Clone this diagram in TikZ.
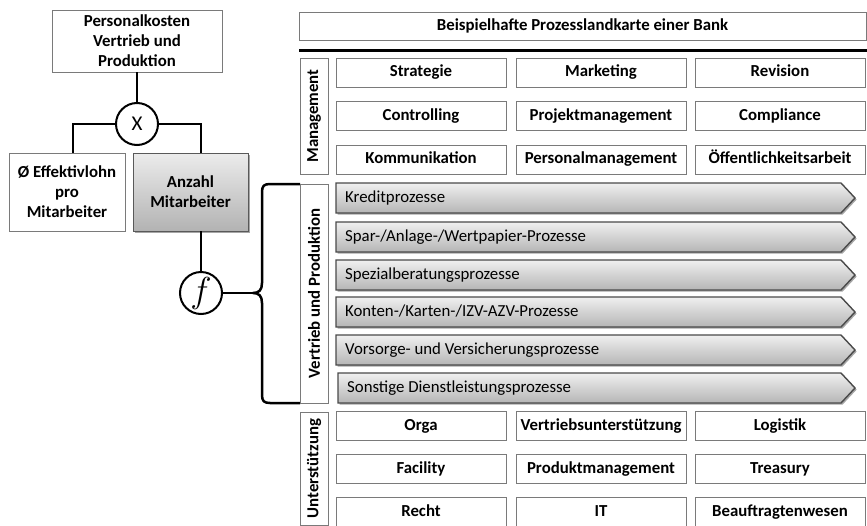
\documentclass[tikz,border=0pt]{standalone}
\usepackage{fontspec}
\usepackage{graphicx}
\setmainfont{Carlito}
\usetikzlibrary{shadows}
\definecolor{edge}{HTML}{7A7A7A}
\definecolor{stepedge}{HTML}{4A4A4A}

% one process step of the value chain: name, left x, centre y, label
\newcommand\procstep[4]{%
  \path[stepshape] (#2,#3-15) -- (841,#3-15) -- (855,#3) -- (841,#3+15) -- (#2,#3+15) -- cycle;
  \node[steplabel, anchor=west] (#1) at (#2+9,#3) {#4};}

\begin{document}
\begin{tikzpicture}[x=1pt,y=-1pt,
  conn/.style={line width=2.8pt, black},
  box/.style={draw=edge, line width=0.9pt, fill=white, inner sep=2pt, align=center,
    font=\bfseries\fontsize{16.8}{20}\selectfont},
  cellbox/.style={box, minimum width=170pt, minimum height=29pt, inner sep=0pt,
    text height=11.5pt, text depth=3.5pt},
  sidebox/.style={box, rotate=90, minimum height=28pt},
  opcircle/.style={circle, draw=black, line width=2pt, fill=white, minimum size=42pt, inner sep=0pt},
  softshadow/.style={drop shadow={shadow xshift=1.6pt, shadow yshift=-1.6pt, opacity=.35, fill=black}},
  stepshape/.style={draw=stepedge, line width=1.4pt, line join=miter, softshadow,
    top color=gray!12, bottom color=gray!58},
  steplabel/.style={inner sep=0pt, text height=11.5pt, text depth=3.5pt,
    font=\fontsize{16.8}{20}\selectfont},
]
\useasboundingbox (0,0) rectangle (867,525);

% ---------- driver tree ----------
\node[box, minimum width=170pt, minimum height=62pt] (pk) at (137,41)
  {Personalkosten\\Vertrieb und\\Produktion};
\node[opcircle, font=\fontsize{21}{21}\selectfont] (mul) at (137,124) {X};
\node[box, minimum width=116pt, minimum height=78pt] (eff) at (67,192)
  {Ø Effektivlohn\\pro\\Mitarbeiter};
\node[box, draw=gray!70!black, minimum width=115pt, minimum height=78pt,
  top color=gray!15, bottom color=gray!60, softshadow] (anz) at (190.5,192)
  {Anzahl\\Mitarbeiter};
\node[opcircle] (fn) at (201,293) {\fontsize{24.88}{25}\selectfont\scalebox{1.45}{$f$}};
\coordinate (bt) at (253,293);

\draw[conn] (pk.south) -- (mul.north);
\draw[conn] (mul.west) -| ([xshift=6pt]eff.north);
\draw[conn] (mul.east) -| (anz.north -| fn);
\draw[conn] (anz.south -| fn) -- (fn.north);
\draw[conn] (fn.east) -- (bt);

% curly brace around the sales and production processes
\draw[line width=2.5pt, line join=round]
  (300,184) -- (270,184) .. controls (264,184) and (262,186) .. (262,192)
  -- (262,283) .. controls (262,290) and (259,293) .. (bt)
  .. controls (259,293) and (262,296) .. (262,303)
  -- (262,395) .. controls (262,401) and (264,403) .. (270,403) -- (300,403);

% ---------- process map ----------
\node[box, minimum width=567pt, minimum height=28pt] (title) at (582.5,26)
  {Beispielhafte Prozesslandkarte einer Bank};
\draw[line width=3pt] (299,50) -- (867,50);

% management processes
\node[sidebox, minimum width=116pt] (mg) at (314,116) {Management};
\node[cellbox] (m11) at (421,72.5)  {Strategie};
\node[cellbox] (m12) at (601,72.5)  {Marketing};
\node[cellbox] (m13) at (780,72.5)  {Revision};
\node[cellbox] (m21) at (421,116)   {Controlling};
\node[cellbox] (m22) at (601,116)   {Projektmanagement};
\node[cellbox] (m23) at (780,116)   {Compliance};
\node[cellbox] (m31) at (421,159.5) {Kommunikation};
\node[cellbox] (m32) at (601,159.5) {Personalmanagement};
\node[cellbox] (m33) at (780,159.5) {Öffentlichkeitsarbeit};

% core processes
\node[sidebox, minimum width=219pt] (vp) at (314,293.5) {Vertrieb und Produktion};
\procstep{p1}{336}{198}{Kreditprozesse}
\procstep{p2}{336}{237}{Spar-/Anlage-/Wertpapier-Prozesse}
\procstep{p3}{336}{275}{Spezialberatungsprozesse}
\procstep{p4}{336}{312}{Konten-/Karten-/IZV-AZV-Prozesse}
\procstep{p5}{336}{350}{Vorsorge- und Versicherungsprozesse}
\procstep{p6}{338}{388}{Sonstige Dienstleistungsprozesse}

% support processes
\node[sidebox, minimum width=113pt] (us) at (314,468.5) {Unterstützung};
\node[cellbox] (u11) at (421,426) {Orga};
\node[cellbox] (u12) at (601,426) {Vertriebsunterstützung};
\node[cellbox] (u13) at (780,426) {Logistik};
\node[cellbox] (u21) at (421,469) {Facility};
\node[cellbox] (u22) at (601,469) {Produktmanagement};
\node[cellbox] (u23) at (780,469) {Treasury};
\node[cellbox] (u31) at (421,512) {Recht};
\node[cellbox] (u32) at (601,512) {IT};
\node[cellbox] (u33) at (780,512) {Beauftragtenwesen};
\end{tikzpicture}
\end{document}
